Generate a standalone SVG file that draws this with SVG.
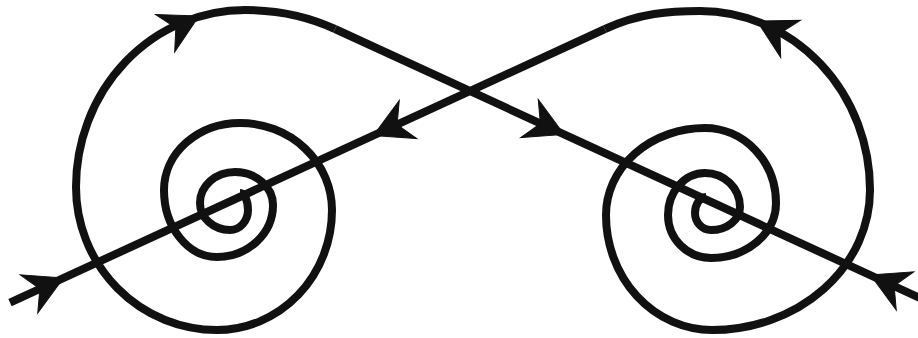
<svg xmlns="http://www.w3.org/2000/svg" width="918" height="338" viewBox="0 0 918 338">
<defs>
<style>
.c{fill:none;stroke:#111;stroke-width:8;stroke-linejoin:round;stroke-linecap:butt}
.ah{fill:#111;stroke:#111;stroke-width:1;stroke-linejoin:miter}
</style>
<path id="ah" d="M0,0 L-38,-21 L-26,0 L-38,21 Z"/>
</defs>
<rect width="918" height="338" fill="#fff"/>
<g id="left-spiral">
<path class="c" d="M335,29 C300.5,13 270,10 245,10 A169,177 0 0 0 76,187 A141,143 0 0 0 217,330 A115,120 0 0 0 332,210 A92,87 0 0 0 240,123 A76,67 0 0 0 164,190 A53,67 0 0 0 217,257 A56,52 0 0 0 273,205 A38,33 0 0 0 235,172 A35,31 0 0 0 200,203 A30,27 0 0 0 230,230 A18,20 0 0 0 248,210 A8,17 0 0 0 240,193"/>
<use href="#ah" class="ah" transform="translate(199,16) rotate(-27)"/>
</g>
<g id="right-spiral">
<path class="c" d="M605,29 C639.5,13 670,11 700,11 A170,179 0 0 1 870,190 A158,140 0 0 1 712,330 A106,115 0 0 1 606,215 A99,87 0 0 1 705,128 A71,75 0 0 1 776,203 A65,55 0 0 1 711,258 A43,43 0 0 1 668,215 A37,42 0 0 1 705,173 A35,34 0 0 1 740,207 A29,23 0 0 1 711,230 A16,17 0 0 1 695,213 A11,16 0 0 1 706,197"/>
<use href="#ah" class="ah" transform="translate(757,21) rotate(208)"/>
</g>
<g id="connectors">
<path class="c" d="M10,302.6 L605,29"/>
<path class="c" d="M335,29 L925,300.3"/>
<use href="#ah" class="ah" transform="translate(63.5,278) rotate(-24.7)"/>
<use href="#ah" class="ah" transform="translate(373.5,135.4) rotate(155.3)"/>
<use href="#ah" class="ah" transform="translate(564,134.4) rotate(24.7)"/>
<use href="#ah" class="ah" transform="translate(870.5,275) rotate(204.7)"/>
</g>
</svg>
